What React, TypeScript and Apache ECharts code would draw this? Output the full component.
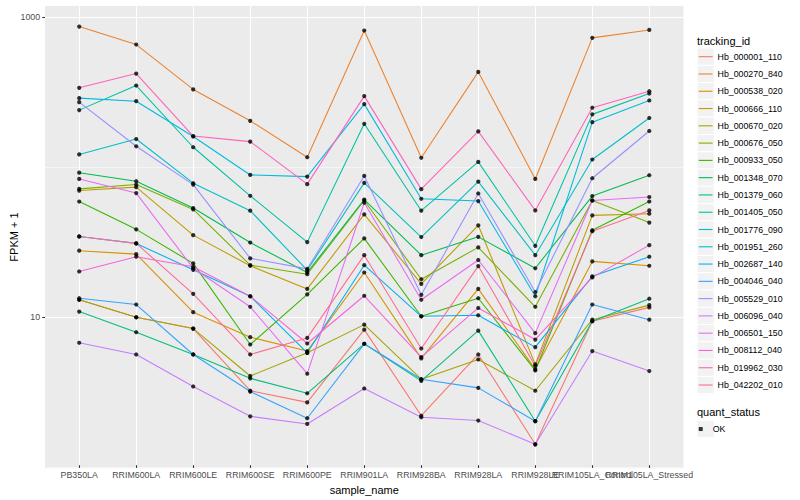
import React, { useEffect, useRef } from 'react';
import * as echarts from 'echarts';

// ---------- data ----------
const samples = [
  'PB350LA', 'RRIM600LA', 'RRIM600LE', 'RRIM600SE', 'RRIM600PE', 'RRIM901LA',
  'RRIM928BA', 'RRIM928LA', 'RRIM928LE', 'RRIM105LA_Control', 'RRIM105LA_Stressed',
];

const trackingIds = [
  'Hb_000001_110', 'Hb_000270_840', 'Hb_000538_020', 'Hb_000666_110', 'Hb_000670_020',
  'Hb_000676_050', 'Hb_000933_050', 'Hb_001348_070', 'Hb_001379_060', 'Hb_001405_050',
  'Hb_001776_090', 'Hb_001951_260', 'Hb_002687_140', 'Hb_004046_040', 'Hb_005529_010',
  'Hb_006096_040', 'Hb_006501_150', 'Hb_008112_040', 'Hb_019962_030', 'Hb_042202_010',
];

// FPKM + 1 per sample, one array per gene
const hb000001_110 = [12.6, 9.61, 8.07, 3.09, 2.58, 7.94, 2.1, 5.41, 1.35, 9.04, 11.2];
const hb000270_840 = [858, 650, 325, 200, 114, 807, 113, 426, 81.5, 721, 815];
const hb000538_020 = [26.9, 25.5, 10.4, 7.07, 5.7, 19.2, 5.09, 14.9, 4.3, 22.8, 21.3];
const hb000666_110 = [68.1, 71.8, 34.2, 21.3, 14.9, 47.1, 16.1, 39.8, 4.64, 46.4, 47.6];
const hb000670_020 = [12.6, 9.61, 8.07, 3.88, 5.55, 8.58, 3.69, 5.01, 3.09, 9.26, 11.6];
const hb000676_050 = [69.9, 74.7, 50.9, 21.5, 18.7, 58.4, 17.3, 28.3, 11.3, 58.4, 41.5];
const hb000933_050 = [57.5, 37.4, 22.1, 6.31, 13.7, 32.5, 9.76, 12.9, 4.23, 36.9, 57.5];
const hb001348_070 = [89.8, 78.7, 52, 30.5, 19.2, 59.3, 25.1, 33.3, 20.5, 62.5, 86.3];
const hb001379_060 = [10.5, 7.63, 5.41, 3.74, 2.97, 6.38, 3.6, 7.82, 1.93, 9.04, 12.8];
const hb001405_050 = [236, 345, 133, 62.8, 30.7, 191, 49.9, 106, 29, 221, 305];
const hb001776_090 = [119, 151, 76.3, 49.9, 19.9, 76.7, 33.2, 78.2, 25.1, 110, 209];
const hb001951_260 = [284, 271, 157, 86.7, 84.5, 259, 60, 57.9, 13.3, 196, 274];
const hb002687_140 = [33.5, 30.1, 20, 13.3, 5.55, 21.5, 9.76, 9.91, 6.06, 18.1, 24.5];
const hb004046_040 = [12.9, 11.7, 5.41, 3.05, 2.02, 6.38, 3.69, 3.23, 1.93, 11.7, 9.26];
const hb005529_010 = [267, 135, 74.7, 23.9, 20.3, 85.4, 13.6, 65.1, 14.2, 82.4, 171];
const hb006096_040 = [6.48, 5.41, 3.3, 2.08, 1.85, 3.2, 2.05, 1.95, 1.35, 5.7, 4.19];
const hb006501_150 = [81.5, 65.5, 20.5, 11.3, 4.02, 56.4, 12.6, 23.3, 7.52, 58.4, 61.6];
const hb008112_040 = [19.5, 24.5, 21.0, 13.3, 6.41, 13.4, 5.2, 11.1, 6.81, 17.8, 29.3];
const hb019962_030 = [333, 415, 158, 145, 75.2, 293, 69.6, 170, 50.1, 245, 316];
const hb042202_010 = [33.5, 30.1, 13.8, 5.41, 6.99, 25.1, 5.93, 21.2, 4.53, 36.3, 50.1];

const seriesValues = [
  hb000001_110, hb000270_840, hb000538_020, hb000666_110, hb000670_020,
  hb000676_050, hb000933_050, hb001348_070, hb001379_060, hb001405_050,
  hb001776_090, hb001951_260, hb002687_140, hb004046_040, hb005529_010,
  hb006096_040, hb006501_150, hb008112_040, hb019962_030, hb042202_010,
];

const quantStatus = ['OK'];

// ---------- style ----------
const palette = [
  '#F8766D', '#EA8331', '#D89000', '#C09B00', '#A3A500', '#7CAE00', '#39B600',
  '#00BB4E', '#00BF7D', '#00C1A3', '#00BFC4', '#00BAE0', '#00B0F6', '#35A2FF',
  '#9590FF', '#C77CFF', '#E76BF3', '#FA62DB', '#FF62BC', '#FF6C91',
];
const FONT = '"Liberation Sans", Arial, Helvetica, sans-serif';
const PANEL_LEFT = 45;
const PANEL_TOP = 5.7;
const PANEL_W = 638.5;
const PANEL_H = 462.7;
const KEY = 17.28;
const KEY_X = 697;
const KEY_TOP = 48.06;
const OK_KEY_TOP = 420.4;

export default function App() {
  const ref = useRef<HTMLDivElement>(null);

  useEffect(() => {
    if (!ref.current) return;
    const chart = echarts.init(ref.current, null, { renderer: 'svg' });

    // ggplot-like 5% expansion of the log10 data range
    const all = seriesValues.flat();
    const lmin = Math.log10(Math.min(...all));
    const lmax = Math.log10(Math.max(...all));
    const span = lmax - lmin;
    const lo = lmin - 0.05 * span;
    const hi = lmax + 0.05 * span;
    const yMin = Math.pow(10, lo);
    const yMax = Math.pow(10, hi);
    const pxPerDec = PANEL_H / (hi - lo);
    const majorTop = PANEL_TOP + (hi - 3) * pxPerDec;
    const majorH = 2 * pxPerDec;

    // discrete axis expansion of 0.6 units on each side
    const n = samples.length;
    const unit = PANEL_W / (n - 1 + 1.2);
    const dataLeft = PANEL_LEFT + 0.6 * unit;
    const dataW = unit * (n - 1);

    const points: [string, number][] = [];
    seriesValues.forEach((vals) => vals.forEach((v, j) => points.push([samples[j], v])));

    const graphics: any[] = [];
    trackingIds.forEach((_, i) => {
      graphics.push({
        type: 'rect', z: 0, silent: true,
        shape: { x: KEY_X, y: KEY_TOP + i * KEY, width: KEY, height: KEY },
        style: { fill: '#F2F2F2', stroke: '#FFFFFF', lineWidth: 1 },
      });
    });
    graphics.push({
      type: 'rect', z: 0, silent: true,
      shape: { x: KEY_X, y: OK_KEY_TOP, width: KEY, height: KEY },
      style: { fill: '#F2F2F2', stroke: '#FFFFFF', lineWidth: 1 },
    });
    graphics.push({
      type: 'text', z: 1, silent: true, x: KEY_X, y: 40.7,
      style: { text: 'tracking_id', fill: '#000', fontSize: 11, fontFamily: FONT, verticalAlign: 'middle', textVerticalAlign: 'middle' },
    });
    graphics.push({
      type: 'text', z: 1, silent: true, x: KEY_X, y: 411.5,
      style: { text: 'quant_status', fill: '#000', fontSize: 11, fontFamily: FONT, verticalAlign: 'middle', textVerticalAlign: 'middle' },
    });

    const legendText = { fontSize: 8.8, color: '#000', fontFamily: FONT, lineHeight: KEY };

    const option: any = {
      animation: false,
      backgroundColor: '#FFFFFF',
      color: palette,
      textStyle: { fontFamily: FONT },
      grid: [
        { left: PANEL_LEFT, top: PANEL_TOP, width: PANEL_W, height: PANEL_H, show: true, backgroundColor: '#EBEBEB', borderWidth: 0 },
        { left: PANEL_LEFT, top: majorTop, width: PANEL_W, height: majorH, show: false },
        { left: dataLeft, top: PANEL_TOP, width: dataW, height: PANEL_H, show: false },
      ],
      xAxis: [
        { gridIndex: 0, type: 'value', show: false, min: 0, max: 1 },
        { gridIndex: 1, type: 'value', show: false, min: 0, max: 1 },
        {
          gridIndex: 2, type: 'category', data: samples, boundaryGap: false,
          axisLine: { show: false },
          axisTick: { show: true, interval: 0, length: 2.75, lineStyle: { color: '#333333', width: 1.07 } },
          axisLabel: { interval: 0, color: '#4D4D4D', fontSize: 8.8, margin: 4.9, hideOverlap: false, fontFamily: FONT },
          splitLine: { show: true, interval: 0, lineStyle: { color: '#FFFFFF', width: 1.07 } },
          name: 'sample_name', nameLocation: 'middle', nameGap: 14,
          nameTextStyle: { color: '#000', fontSize: 11, fontFamily: FONT },
        },
      ],
      yAxis: [
        {
          gridIndex: 0, type: 'log', min: yMin, max: yMax,
          axisLine: { show: false }, axisTick: { show: false }, axisLabel: { show: false },
          splitLine: { show: true, lineStyle: { color: '#FFFFFF', width: 0.53 } },
          name: 'FPKM + 1', nameLocation: 'middle', nameGap: 26,
          nameTextStyle: { color: '#000', fontSize: 11, fontFamily: FONT },
        },
        {
          gridIndex: 1, type: 'value', min: 1, max: 3, interval: 2,
          axisLine: { show: false },
          axisTick: { show: true, length: 2.75, lineStyle: { color: '#333333', width: 1.07 } },
          axisLabel: {
            color: '#4D4D4D', fontSize: 8.8, margin: 4.9, fontFamily: FONT,
            formatter: (v: number) => String(Math.round(Math.pow(10, v))),
          },
          splitLine: { show: true, lineStyle: { color: '#FFFFFF', width: 1.07 } },
        },
        { gridIndex: 2, type: 'log', min: yMin, max: yMax, show: false },
      ],
      legend: [
        {
          data: trackingIds, orient: 'vertical', left: KEY_X + 0.1 * KEY, top: KEY_TOP,
          padding: 0, itemGap: 0, itemWidth: 0.8 * KEY, itemHeight: 1.1, icon: 'rect',
          selectedMode: false, textStyle: legendText,
        },
        {
          data: quantStatus.map((q) => ({ name: q, icon: 'path://M0,0L1,0L1,1L0,1Z' })),
          orient: 'vertical', left: KEY_X + 0.1 * KEY, top: OK_KEY_TOP,
          padding: 0, itemGap: 0, itemWidth: 0.8 * KEY, itemHeight: 4,
          symbolKeepAspect: true,
          selectedMode: false, textStyle: legendText,
        },
      ],
      graphic: graphics,
      series: [
        ...seriesValues.map((vals, i) => ({
          type: 'line', name: trackingIds[i], xAxisIndex: 2, yAxisIndex: 2,
          data: vals, symbol: 'none', showSymbol: false, silent: true,
          color: palette[i],
          lineStyle: { color: palette[i], width: 1.07 },
          itemStyle: { color: palette[i] },
          z: 2,
        })),
        {
          type: 'scatter', name: quantStatus[0], xAxisIndex: 2, yAxisIndex: 2,
          data: points, symbol: 'circle', symbolSize: 4.2, silent: true,
          itemStyle: { color: '#000000' }, z: 3,
        },
      ],
    };

    chart.setOption(option);
    return () => chart.dispose();
  }, []);

  return (
    <div
      ref={ref}
      style={{ position: 'fixed', left: 0, top: 0, width: 800, height: 500, background: '#fff' }}
    />
  );
}
